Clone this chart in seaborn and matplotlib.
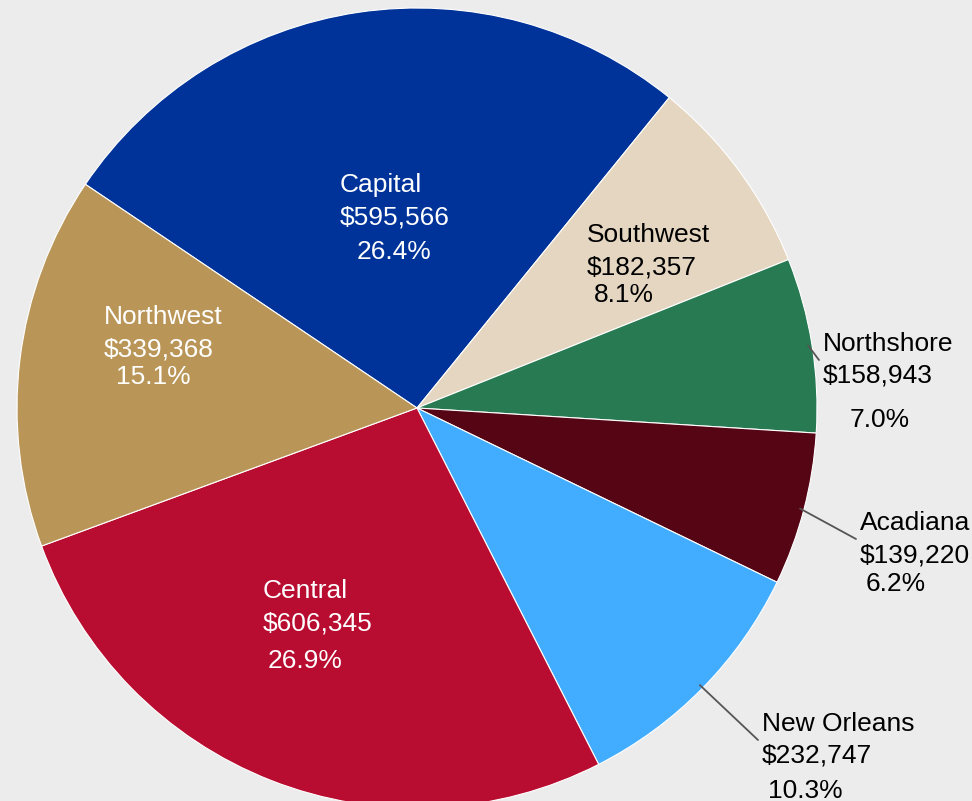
import numpy as np
import matplotlib
matplotlib.use("Agg")
import matplotlib.pyplot as plt
import seaborn as sns

# data, clockwise from the top-left slice
regions = ['Capital', 'Southwest', 'Northshore', 'Acadiana', 'New Orleans', 'Central', 'Northwest']
amounts = [595566, 182357, 158943, 139220, 232747, 606345, 339368]
colors = ['#003399', '#e5d6c1', '#277a52', '#560515', '#42adff', '#b80c30', '#b99658']
text_colors = ['white', 'black', 'black', 'black', 'black', 'white', 'white']
has_leader = [False, False, True, True, True, False, False]

# label placement (pie radius units, name = left / middle of first line)
name_pos = [(-0.1925, 0.5575), (0.425, 0.4325), (1.015, 0.16), (1.1075, -0.2875),
            (0.8625, -0.79), (-0.385, -0.4575), (-0.7825, 0.2275)]
pct_pos = [(-0.15, 0.39), (0.4425, 0.2825), (1.0825, -0.03), (1.1225, -0.44),
           (0.8775, -0.9575), (-0.3725, -0.6325), (-0.7525, 0.0775)]
line_gap = 0.08

sns.set_theme(style="white")
plt.rcParams['font.family'] = ['Liberation Sans', 'DejaVu Sans']
bg = '#ececec'

fig = plt.figure(figsize=(9.72, 8.01), dpi=100, facecolor=bg)
# square axes, pie center at (417, 408) px, radius 400 px
ax = fig.add_axes([17 / 972, (801 - 408 - 400) / 801, 800 / 972, 800 / 801])
ax.set_facecolor(bg)

total = sum(amounts)
wedges, _ = ax.pie(amounts, colors=colors, startangle=146, counterclock=False,
                   radius=1, wedgeprops=dict(edgecolor='white', linewidth=0.8))
ax.set_xlim(-1, 1)
ax.set_ylim(-1, 1)
ax.set_aspect('equal')
ax.axis('off')

fs = 19
for i, w in enumerate(wedges):
    nx, ny = name_pos[i]
    ax.text(nx, ny, regions[i], color=text_colors[i], fontsize=fs, ha='left', va='center')
    ax.text(nx, ny - line_gap, f"${amounts[i]:,}", color=text_colors[i], fontsize=fs,
            ha='left', va='center')
    px, py = pct_pos[i]
    ax.text(px, py, f"{100 * amounts[i] / total:.1f}%", color=text_colors[i], fontsize=fs,
            ha='left', va='center')
    if has_leader[i]:
        mid = np.deg2rad((w.theta1 + w.theta2) / 2)
        x0, y0 = 0.99 * np.cos(mid), 0.99 * np.sin(mid)
        ax.plot([x0, nx - 0.01], [y0, ny - line_gap / 2], color='#555555', lw=1.3,
                clip_on=False)

fig.savefig('out.png', dpi=100, facecolor=bg)
